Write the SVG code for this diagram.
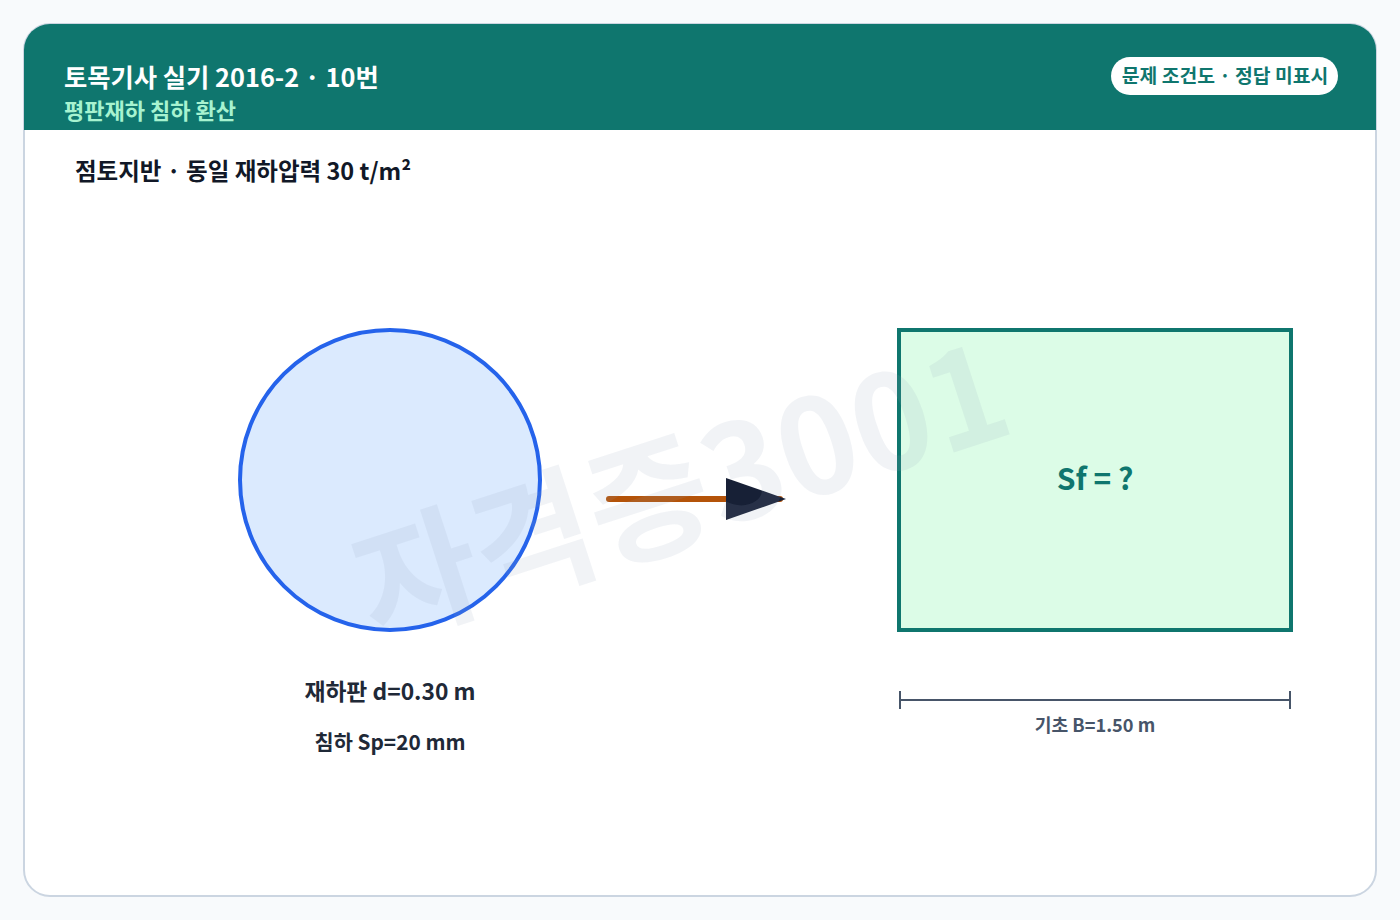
<svg xmlns="http://www.w3.org/2000/svg" width="1400" height="920" viewBox="0 0 1400 920">
<style>
text{font-family:"Noto Sans CJK KR","Noto Sans",sans-serif;font-weight:700}
.title{fill:#ffffff;font-size:25.3px}
.sub{fill:#a7f3d0;font-size:22px}
.badge{fill:#0f766e;font-size:19.3px}
.h2{fill:#111827;font-size:23.5px}
.lbl{fill:#1f2937;font-size:22.8px}
.dim{fill:#475569;font-size:18.2px}
.wm{fill:#94a3b8;fill-opacity:0.13;font-size:132px}
</style>
<defs>
<marker id="ah" markerWidth="10" markerHeight="10" refX="9" refY="5" orient="auto" markerUnits="strokeWidth" viewBox="0 0 10 10">
<path d="M0,0 L10,3.5 L0,7 Z" fill="#172036" transform="translate(0,1.5)"/>
</marker>
</defs>
<rect x="0" y="0" width="1400" height="920" fill="#f8fafc"/>
<g id="card">
<rect x="24" y="24" width="1352" height="872" rx="26" fill="#ffffff" stroke="#cbd5e1" stroke-width="2"/>
<path d="M24,130 V50 A26,26 0 0 1 50,24 H1350 A26,26 0 0 1 1376,50 V130 Z" fill="#0f766e"/>
<text class="title" x="64" y="87">토목기사 실기 2016-2 · 10번</text>
<text class="sub" x="64" y="119">평판재하 침하 환산</text>
</g>
<g id="badge">
<rect x="1111" y="57" width="227" height="38" rx="19" fill="#ffffff"/>
<text class="badge" x="1225" y="83" text-anchor="middle">문제 조건도 · 정답 미표시</text>
</g>
<g id="heading">
<text class="h2" x="75" y="180">점토지반 · 동일 재하압력 30 t/m²</text>
</g>
<g id="plate">
<circle cx="390" cy="480" r="150" fill="#dbeafe" stroke="#2563eb" stroke-width="4"/>
<text class="lbl" x="390" y="700" text-anchor="middle">재하판 d=0.30 m</text>
<text class="lbl" x="390" y="750" text-anchor="middle" style="font-size:20.8px">침하 Sp=20 mm</text>
</g>
<g id="footing">
<rect x="899" y="330" width="392" height="300" fill="#dcfce7" stroke="#0f766e" stroke-width="4"/>
<text x="1095" y="490" text-anchor="middle" style="fill:#0f766e;font-size:30px">Sf = ?</text>
</g>
<g id="dimension">
<path d="M900,700 H1290 M900,691 V709 M1290,691 V709" stroke="#475569" stroke-width="2" fill="none"/>
<text class="dim" x="1095" y="732" text-anchor="middle">기초 B=1.50 m</text>
</g>
<g id="connectors">
<line x1="609" y1="499" x2="780" y2="499" stroke="#b45309" stroke-width="6" stroke-linecap="round" marker-end="url(#ah)"/>
</g>
<text class="wm" x="685" y="502" text-anchor="middle" dominant-baseline="middle" transform="rotate(-18 685 502)">자격증3001</text>
</svg>
